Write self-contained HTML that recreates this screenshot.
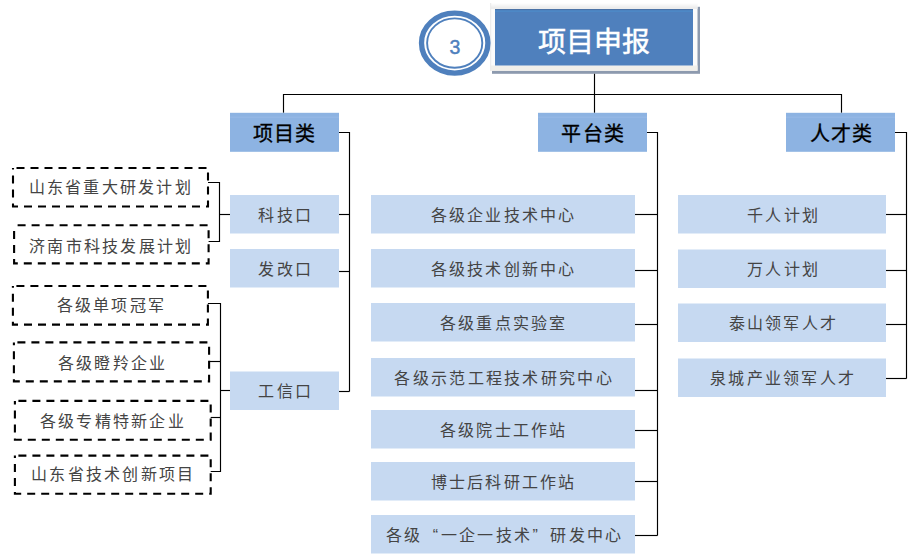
<!DOCTYPE html>
<html lang="zh-CN"><head><meta charset="utf-8"><style>
html,body{margin:0;padding:0;background:#fff;}
body{width:911px;height:559px;overflow:hidden;}
svg{display:block;font-family:"Liberation Sans", sans-serif;}
</style></head><body>
<svg width="911" height="559" viewBox="0 0 911 559">
<defs><linearGradient id="tg" x1="0" y1="0" x2="0" y2="1"><stop offset="0" stop-color="#ffffff"/><stop offset="1" stop-color="#ebebeb"/></linearGradient></defs>
<rect x="492" y="6.8" width="208" height="67" fill="#8d9aae" />
<rect x="490" y="3" width="207.5" height="67.75" fill="#fbfbfb" />
<rect x="490" y="3" width="207.5" height="5" fill="url(#tg)" />
<rect x="490" y="7.8" width="207.5" height="1.2" fill="#ededed" />
<rect x="490" y="65.5" width="207.5" height="5.25" fill="#f1efea" />
<rect x="490" y="3" width="1.2" height="67.75" fill="#ececec" />
<rect x="495" y="9" width="198" height="56.5" fill="#4f80bd" />
<rect x="495" y="9" width="198" height="1" fill="#4a72a6" />
<rect x="495" y="10.5" width="198" height="1.5" fill="#4d88c6" />
<text x="594" y="52" font-size="28" fill="#fff" letter-spacing="0" font-weight="normal" text-anchor="middle" stroke="#fff" stroke-width="0.5">项目申报</text>
<ellipse cx="454.7" cy="43.1" rx="33.2" ry="30" fill="#fff" stroke="#4f80bd" stroke-width="5.3"/>
<ellipse cx="454.7" cy="43.1" rx="27.6" ry="24.7" fill="none" stroke="#4f80bd" stroke-width="1.9"/>
<text x="454.9" y="53.8" font-size="19.5" fill="#4f80bd" font-weight="normal" stroke="#4f80bd" stroke-width="0.45" text-anchor="middle">3</text>
<polyline points="594.5,73.8 594.5,112.8" fill="none" stroke="#000" stroke-width="1.15" stroke-linejoin="miter" stroke-linecap="butt"/>
<polyline points="283.5,112.8 283.5,94.5 841.5,94.5 841.5,112.8" fill="none" stroke="#000" stroke-width="1.15" stroke-linejoin="miter" stroke-linecap="butt"/>
<rect x="230" y="112.8" width="109" height="39" fill="#8db3e2" />
<rect x="230" y="116.6" width="109" height="1.2" fill="#96b9e5" />
<text x="252.6 274.0 295.4" y="140.5" font-size="20" fill="#000" font-weight="normal" stroke="#000" stroke-width="0.3">项目类</text>
<rect x="538" y="112.8" width="109" height="39" fill="#8db3e2" />
<rect x="538" y="116.6" width="109" height="1.2" fill="#96b9e5" />
<text x="561.1 582.5 603.9" y="140.5" font-size="20" fill="#000" font-weight="normal" stroke="#000" stroke-width="0.3">平台类</text>
<rect x="786" y="112.8" width="109" height="39" fill="#8db3e2" />
<rect x="786" y="116.6" width="109" height="1.2" fill="#96b9e5" />
<text x="809.6 831.0 852.4" y="140.5" font-size="20" fill="#000" font-weight="normal" stroke="#000" stroke-width="0.3">人才类</text>
<rect x="230" y="195" width="109" height="38.5" fill="#c6d9f1" />
<text x="258.44 276.71 294.98" y="220.5" font-size="16" fill="#444444" font-weight="normal" >科技口</text>
<rect x="230" y="249" width="109" height="38.5" fill="#c6d9f1" />
<text x="258.44 276.71 294.98" y="274.5" font-size="16" fill="#444444" font-weight="normal" >发改口</text>
<rect x="230" y="371.5" width="109" height="38.5" fill="#c6d9f1" />
<text x="258.44 276.71 294.98" y="397.0" font-size="16" fill="#444444" font-weight="normal" >工信口</text>
<rect x="371" y="195" width="264" height="38.5" fill="#c6d9f1" />
<text x="430.54 448.81 467.08 485.35 503.62 521.89 540.16 558.43" y="220.5" font-size="16" fill="#444444" font-weight="normal" >各级企业技术中心</text>
<rect x="371" y="249" width="264" height="38.5" fill="#c6d9f1" />
<text x="430.54 448.81 467.08 485.35 503.62 521.89 540.16 558.43" y="274.5" font-size="16" fill="#444444" font-weight="normal" >各级技术创新中心</text>
<rect x="371" y="303" width="264" height="38.5" fill="#c6d9f1" />
<text x="439.82 458.09 476.36 494.63 512.9 531.17 549.44" y="328.5" font-size="16" fill="#444444" font-weight="normal" >各级重点实验室</text>
<rect x="371" y="358" width="264" height="38.5" fill="#c6d9f1" />
<text x="394.35 412.65 430.95 449.25 467.55 485.85 504.15 522.45 540.75 559.05 577.35 595.65" y="383.5" font-size="16" fill="#444444" font-weight="normal" >各级示范工程技术研究中心</text>
<rect x="371" y="410" width="264" height="38.5" fill="#c6d9f1" />
<text x="439.82 458.09 476.36 494.63 512.9 531.17 549.44" y="435.5" font-size="16" fill="#444444" font-weight="normal" >各级院士工作站</text>
<rect x="371" y="462" width="264" height="38.5" fill="#c6d9f1" />
<text x="430.54 448.81 467.08 485.35 503.62 521.89 540.16 558.43" y="487.5" font-size="16" fill="#444444" font-weight="normal" >博士后科研工作站</text>
<rect x="371" y="515" width="264" height="38.5" fill="#c6d9f1" />
<text x="385.7 404.0 432.8 440.6 458.9 477.2 495.5 513.8 532.6 550.4 568.7 587.0 605.3" y="540.5" font-size="16" fill="#444444" font-weight="normal" >各级“一企一技术”研发中心</text>
<rect x="678" y="195" width="208" height="38.5" fill="#c6d9f1" />
<text x="747.16 765.43 783.7 801.97" y="220.5" font-size="16" fill="#444444" font-weight="normal" >千人计划</text>
<rect x="678" y="249.5" width="208" height="38.5" fill="#c6d9f1" />
<text x="747.16 765.43 783.7 801.97" y="275.0" font-size="16" fill="#444444" font-weight="normal" >万人计划</text>
<rect x="678" y="303.5" width="208" height="38.5" fill="#c6d9f1" />
<text x="728.6 746.87 765.14 783.41 801.68 819.95" y="329.0" font-size="16" fill="#444444" font-weight="normal" >泰山领军人才</text>
<rect x="678" y="358.5" width="208" height="38.5" fill="#c6d9f1" />
<text x="710.04 728.31 746.58 764.85 783.12 801.39 819.66 837.93" y="384.0" font-size="16" fill="#444444" font-weight="normal" >泉城产业领军人才</text>
<polyline points="339,132.5 349.5,132.5 349.5,391.5" fill="none" stroke="#000" stroke-width="1.15" stroke-linejoin="miter" stroke-linecap="butt"/>
<polyline points="339,214.5 349.5,214.5" fill="none" stroke="#000" stroke-width="1.15" stroke-linejoin="miter" stroke-linecap="butt"/>
<polyline points="339,271.5 349.5,271.5" fill="none" stroke="#000" stroke-width="1.15" stroke-linejoin="miter" stroke-linecap="butt"/>
<polyline points="339,391.5 349.5,391.5" fill="none" stroke="#000" stroke-width="1.15" stroke-linejoin="miter" stroke-linecap="butt"/>
<polyline points="647,132.5 657.5,132.5 657.5,535.5" fill="none" stroke="#000" stroke-width="1.15" stroke-linejoin="miter" stroke-linecap="butt"/>
<polyline points="635,214.5 657.5,214.5" fill="none" stroke="#000" stroke-width="1.15" stroke-linejoin="miter" stroke-linecap="butt"/>
<polyline points="635,270.5 657.5,270.5" fill="none" stroke="#000" stroke-width="1.15" stroke-linejoin="miter" stroke-linecap="butt"/>
<polyline points="635,324.5 657.5,324.5" fill="none" stroke="#000" stroke-width="1.15" stroke-linejoin="miter" stroke-linecap="butt"/>
<polyline points="635,390.5 657.5,390.5" fill="none" stroke="#000" stroke-width="1.15" stroke-linejoin="miter" stroke-linecap="butt"/>
<polyline points="635,430.5 657.5,430.5" fill="none" stroke="#000" stroke-width="1.15" stroke-linejoin="miter" stroke-linecap="butt"/>
<polyline points="635,481.5 657.5,481.5" fill="none" stroke="#000" stroke-width="1.15" stroke-linejoin="miter" stroke-linecap="butt"/>
<polyline points="635,535.5 657.5,535.5" fill="none" stroke="#000" stroke-width="1.15" stroke-linejoin="miter" stroke-linecap="butt"/>
<polyline points="895,132.5 906.5,132.5 906.5,378.5" fill="none" stroke="#000" stroke-width="1.15" stroke-linejoin="miter" stroke-linecap="butt"/>
<polyline points="886,214.5 906.5,214.5" fill="none" stroke="#000" stroke-width="1.15" stroke-linejoin="miter" stroke-linecap="butt"/>
<polyline points="886,270.5 906.5,270.5" fill="none" stroke="#000" stroke-width="1.15" stroke-linejoin="miter" stroke-linecap="butt"/>
<polyline points="886,324.5 906.5,324.5" fill="none" stroke="#000" stroke-width="1.15" stroke-linejoin="miter" stroke-linecap="butt"/>
<polyline points="886,378.5 906.5,378.5" fill="none" stroke="#000" stroke-width="1.15" stroke-linejoin="miter" stroke-linecap="butt"/>
<rect x="13" y="168" width="195" height="38.5" fill="none" stroke="#000" stroke-width="2.1" stroke-dasharray="8 6" stroke-dashoffset="10.5"/>
<text x="28.56 46.83 65.1 83.37 101.64 119.91 138.18 156.45 174.72" y="193.1" font-size="16" fill="#444444" font-weight="normal" >山东省重大研发计划</text>
<rect x="14.1" y="225.2" width="194.5" height="38.19999999999999" fill="none" stroke="#000" stroke-width="2.1" stroke-dasharray="8 6" stroke-dashoffset="10.5"/>
<text x="29.06 47.33 65.6 83.87 102.14 120.41 138.68 156.95 175.22" y="251.6" font-size="16" fill="#444444" font-weight="normal" >济南市科技发展计划</text>
<rect x="12.9" y="286" width="195.0" height="38.60000000000002" fill="none" stroke="#000" stroke-width="2.1" stroke-dasharray="8 6" stroke-dashoffset="10.5"/>
<text x="56.5 74.77 93.04 111.31 129.58 147.85" y="310.8" font-size="16" fill="#444444" font-weight="normal" >各级单项冠军</text>
<rect x="13.9" y="342.4" width="195.2" height="39.0" fill="none" stroke="#000" stroke-width="2.1" stroke-dasharray="8 6" stroke-dashoffset="10.5"/>
<text x="57.95 76.22 94.49 112.76 131.03 149.3" y="369.3" font-size="16" fill="#444444" font-weight="normal" >各级瞪羚企业</text>
<rect x="14.9" y="400.9" width="195.79999999999998" height="38.80000000000001" fill="none" stroke="#000" stroke-width="2.1" stroke-dasharray="8 6" stroke-dashoffset="10.5"/>
<text x="39.69 57.96 76.23 94.5 112.77 131.04 149.31 167.58" y="426.6" font-size="16" fill="#444444" font-weight="normal" >各级专精特新企业</text>
<rect x="14.9" y="455.6" width="195.79999999999998" height="38.19999999999999" fill="none" stroke="#000" stroke-width="2.1" stroke-dasharray="8 6" stroke-dashoffset="10.5"/>
<text x="30.96 49.23 67.5 85.77 104.04 122.31 140.58 158.85 177.12" y="480.2" font-size="16" fill="#444444" font-weight="normal" >山东省技术创新项目</text>
<polyline points="208,182.5 219.5,182.5 219.5,241.5 208.6,241.5" fill="none" stroke="#000" stroke-width="1.15" stroke-linejoin="miter" stroke-linecap="butt"/>
<polyline points="219.5,214.5 230,214.5" fill="none" stroke="#000" stroke-width="1.15" stroke-linejoin="miter" stroke-linecap="butt"/>
<polyline points="207.9,303.5 220.5,303.5 220.5,471.5 210.7,471.5" fill="none" stroke="#000" stroke-width="1.15" stroke-linejoin="miter" stroke-linecap="butt"/>
<polyline points="209.1,361.5 220.5,361.5" fill="none" stroke="#000" stroke-width="1.15" stroke-linejoin="miter" stroke-linecap="butt"/>
<polyline points="210.7,417.5 220.5,417.5" fill="none" stroke="#000" stroke-width="1.15" stroke-linejoin="miter" stroke-linecap="butt"/>
<polyline points="220.5,390.5 230,390.5" fill="none" stroke="#000" stroke-width="1.15" stroke-linejoin="miter" stroke-linecap="butt"/>
</svg>
</body></html>
